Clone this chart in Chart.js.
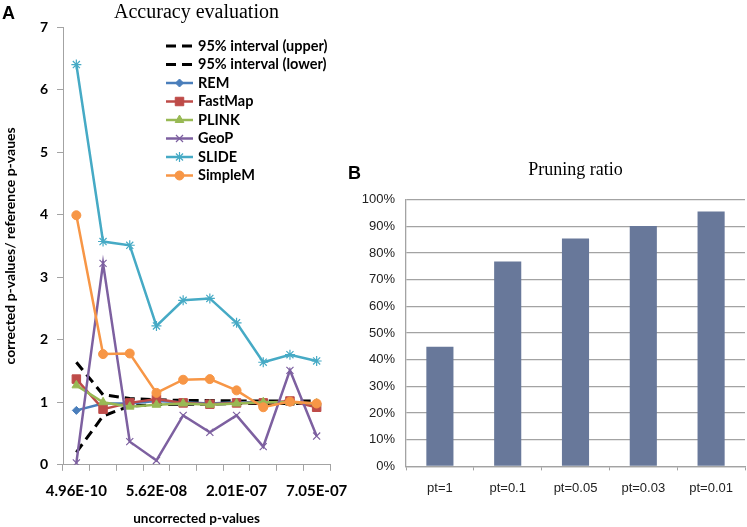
<!DOCTYPE html>
<html>
<head>
<meta charset="utf-8">
<script src="https://cdn.jsdelivr.net/npm/chart.js@4.4.0/dist/chart.umd.min.js"></script>
<style>
  html, body { margin: 0; padding: 0; background: #fff; }
  #page { position: relative; width: 747px; height: 527px; overflow: hidden; }
  .box { position: absolute; }
  .tag { position: absolute; font: bold 18px 'Liberation Sans', Arial, sans-serif; color: #000; line-height: 1; }
</style>
</head>
<body>
<div id="page">
  <div class="box" style="left:0;top:0;width:370px;height:527px"><canvas id="accuracy"></canvas></div>
  <div class="box" style="left:355px;top:0;width:392px;height:527px"><canvas id="pruning"></canvas></div>
  <div class="tag" style="left:2px;top:4px">A</div>
  <div class="tag" style="left:348px;top:164px">B</div>
</div>
<script>
// panel A: corrected / reference p-value ratios
const pValueLabels = ['4.96E-10', '', '', '5.62E-08', '', '', '2.01E-07', '', '', '7.05E-07'];
const upper95 = [1.64, 1.12, 1.06, 1.04, 1.03, 1.03, 1.02, 1.02, 1.02, 1.02];
const lower95 = [0.20, 0.78, 0.94, 0.96, 0.97, 0.97, 0.98, 0.98, 0.98, 0.98];
const rem = [0.87, 0.98, 0.98, 1.02, 1.00, 0.98, 1.00, 1.00, 1.00, 0.97];
const fastMap = [1.37, 0.89, 0.99, 1.05, 0.99, 0.97, 0.99, 0.99, 1.02, 0.92];
const plink = [1.27, 1.00, 0.93, 0.96, 0.98, 0.96, 0.98, 1.00, 1.00, 0.98];
const geoP = [0.03, 3.22, 0.37, 0.07, 0.79, 0.52, 0.79, 0.29, 1.51, 0.46];
const slide = [6.40, 3.57, 3.51, 2.22, 2.63, 2.66, 2.27, 1.64, 1.76, 1.66];
const simpleM = [3.99, 1.77, 1.78, 1.15, 1.36, 1.37, 1.19, 0.92, 1.01, 0.98];

// panel B: pruning ratio per threshold
const thresholds = ['pt=1', 'pt=0.1', 'pt=0.05', 'pt=0.03', 'pt=0.01'];
const pruningRatio = [44.8, 76.8, 85.4, 90.1, 95.5];
const percentTicks = [0, 10, 20, 30, 40, 50, 60, 70, 80, 90, 100];

const axisGray = '#a3a3a3';
const sansBold = (size) => ({ family: 'Lato, "Open Sans", sans-serif', size, weight: 'bold' });

function intervalSet(label, data) {
  return {
    label,
    data,
    borderColor: '#000',
    borderWidth: 3,
    borderDash: [10, 6],
    pointRadius: 0,
    pointStyle: false
  };
}

function methodSet(label, data, color, pointStyle, radius, thin) {
  return {
    label,
    data,
    borderColor: color,
    backgroundColor: color,
    borderWidth: 2.5,
    pointStyle,
    pointRadius: radius,
    pointBackgroundColor: color,
    pointBorderColor: color,
    pointBorderWidth: thin ? 1.2 : 1
  };
}

const accuracySets = [
  intervalSet('95% interval (upper)', upper95),
  intervalSet('95% interval (lower)', lower95),
  methodSet('REM', rem, '#4a7ebb', 'rectRot', 4),
  methodSet('FastMap', fastMap, '#be4b48', 'rect', 6),
  methodSet('PLINK', plink, '#98b954', 'triangle', 5),
  methodSet('GeoP', geoP, '#7d60a0', 'crossRot', 5, true),
  methodSet('SLIDE', slide, '#46aac5', 'star', 5, true),
  methodSet('SimpleM', simpleM, '#f79646', 'circle', 4.5)
];
// later series sit on top, like the spreadsheet did
accuracySets.forEach((ds, i) => { ds.order = accuracySets.length - i; });

// legend drawn inside the plot, line sample with marker in the middle
const insideLegend = {
  id: 'insideLegend',
  afterDraw(chart, args, opts) {
    const ctx = chart.ctx;
    ctx.save();
    chart.data.datasets.forEach((ds, i) => {
      const y = opts.top + i * opts.rowHeight;
      ctx.strokeStyle = ds.borderColor;
      ctx.lineWidth = ds.borderWidth;
      ctx.setLineDash(ds.borderDash || []);
      ctx.beginPath();
      ctx.moveTo(opts.left, y);
      ctx.lineTo(opts.left + opts.lineLength, y);
      ctx.stroke();
      ctx.setLineDash([]);
      if (ds.pointRadius > 0) {
        ctx.fillStyle = ds.pointBackgroundColor;
        ctx.strokeStyle = ds.pointBorderColor;
        ctx.lineWidth = ds.pointBorderWidth;
        Chart.helpers.drawPoint(ctx, {
          pointStyle: ds.pointStyle,
          radius: ds.pointRadius,
          rotation: 0,
          borderWidth: ds.pointBorderWidth
        }, opts.left + opts.lineLength / 2, y);
      }
      ctx.fillStyle = '#000';
      ctx.font = 'bold 14.5px Lato, sans-serif';
      ctx.textBaseline = 'middle';
      ctx.fillText(ds.label, opts.left + opts.lineLength + 5, y);
    });
    ctx.restore();
  }
};

new Chart(document.getElementById('accuracy'), {
  type: 'line',
  data: { labels: pValueLabels, datasets: accuracySets },
  plugins: [insideLegend],
  options: {
    responsive: true,
    maintainAspectRatio: false,
    animation: false,
    layout: { padding: { left: 0, right: 40, top: 0, bottom: 0 } },
    elements: { line: { tension: 0 } },
    plugins: {
      legend: { display: false },
      tooltip: { enabled: false },
      title: {
        display: true,
        fullSize: false,
        text: 'Accuracy evaluation',
        color: '#000',
        font: { family: '"Liberation Serif", serif', size: 20, weight: 'normal' },
        padding: { top: 1, bottom: 2 }
      },
      insideLegend: { left: 166, top: 46, rowHeight: 18.5, lineLength: 27 }
    },
    scales: {
      x: {
        offset: true,
        grid: { offset: true, drawOnChartArea: false, tickLength: 6, color: axisGray },
        border: { color: axisGray },
        ticks: { autoSkip: false, maxRotation: 0, padding: 11, color: '#000', font: sansBold(15) },
        title: {
          display: true,
          text: 'uncorrected p-values',
          color: '#000',
          font: sansBold(13.5),
          padding: { top: 0, bottom: 0 }
        }
      },
      y: {
        min: 0,
        max: 7,
        afterFit: (scale) => { scale.width = 63; },
        grid: { drawOnChartArea: false, tickLength: 6, color: axisGray },
        border: { color: axisGray },
        ticks: { stepSize: 1, padding: 9, color: '#000', font: sansBold(14) },
        title: {
          display: true,
          text: 'corrected p-values/ reference p-vaues',
          color: '#000',
          font: sansBold(14),
          padding: { top: 2, bottom: 0 }
        }
      }
    }
  }
});

new Chart(document.getElementById('pruning'), {
  type: 'bar',
  data: {
    labels: thresholds,
    datasets: [{
      label: 'Pruning ratio',
      data: pruningRatio,
      backgroundColor: '#68789a',
      barPercentage: 0.4,
      categoryPercentage: 1
    }]
  },
  options: {
    responsive: true,
    maintainAspectRatio: false,
    animation: false,
    layout: { padding: { left: 0, right: 2, top: 159, bottom: 21 } },
    plugins: {
      legend: { display: false },
      tooltip: { enabled: false },
      title: {
        display: true,
        fullSize: false,
        text: 'Pruning ratio',
        color: '#000',
        font: { family: '"Liberation Serif", serif', size: 18, weight: 'normal' },
        padding: { top: 0, bottom: 19 }
      }
    },
    scales: {
      x: {
        grid: { offset: true, drawOnChartArea: false, tickLength: 4, color: axisGray },
        border: { color: axisGray, width: 1.3 },
        ticks: { padding: 10, color: '#222', font: { family: '"Liberation Sans", Arial, sans-serif', size: 13 } }
      },
      y: {
        min: 0,
        max: 100,
        afterFit: (scale) => { scale.width = 51; },
        afterBuildTicks: (scale) => { scale.ticks = percentTicks.map((v) => ({ value: v })); },
        grid: { drawTicks: false, color: axisGray, lineWidth: 1.3 },
        border: { color: axisGray, width: 1.3 },
        ticks: {
          padding: 11,
          color: '#222',
          font: { family: '"Liberation Sans", Arial, sans-serif', size: 13 },
          callback: (v) => v + '%'
        }
      }
    }
  }
});
</script>
</body>
</html>
